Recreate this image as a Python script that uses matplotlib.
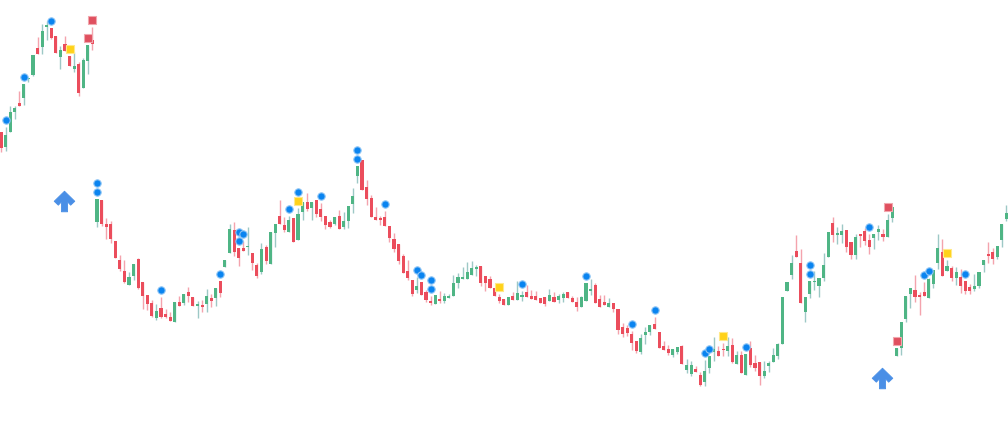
import matplotlib
matplotlib.use("Agg")
import matplotlib.pyplot as plt
import numpy as np
from matplotlib.path import Path

# candle values (chart level units, larger = lower on screen)
# per candle: body top, body bottom, high, low, direction (1 up / 0 down)
body_top = [133, 136, 113, 109, 104, 85, 79, 56, 49, 32, 26, 29, 37, 51, 45, 57, 67, 65, 61, 46,
            41, 200, 201, 225, 225, 242, 261, 272, 278, 265, 260, 283, 296, 304, 312, 309, 315, 318, 303, 303,
            295, 293, 298, 305, 306, 297, 299, 289, 282, 261, 230, 231, 249, 249, 247, 254, 266, 250, 248, 233,
            225, 217, 226, 221, 219, 215, 203, 203, 203, 201, 210, 217, 223, 218, 217, 222, 207, 197, 167, 161,
            188, 199, 218, 219, 218, 227, 240, 245, 257, 272, 281, 287, 283, 293, 302, 296, 300, 297, 297, 284,
            278, 278, 273, 269, 268, 267, 277, 280, 289, 298, 300, 298, 297, 294, 296, 293, 297, 297, 299, 298,
            296, 298, 297, 295, 293, 299, 303, 298, 284, 290, 286, 300, 303, 304, 304, 310, 328, 329, 335, 342,
            339, 333, 326, 325, 333, 347, 350, 350, 348, 347, 366, 366, 370, 376, 372, 357, 350, 352, 350, 347,
            346, 356, 356, 355, 349, 364, 363, 372, 364, 356, 345, 298, 283, 264, 252, 264, 298, 282, 282, 279,
            266, 233, 224, 234, 232, 231, 243, 238, 235, 232, 241, 235, 230, 235, 221, 208, 349, 323, 297, 289,
            291, 296, 293, 280, 271, 249, 253, 267, 269, 273, 278, 282, 288, 287, 273, 261, 255, 253, 247, 225,
            214]
body_bot = [149, 148, 133, 113, 107, 99, 80, 76, 55, 48, 28, 39, 54, 58, 52, 67, 70, 94, 89, 62,
            45, 223, 225, 228, 240, 259, 270, 283, 286, 277, 289, 297, 305, 317, 319, 318, 318, 322, 323, 307,
            304, 297, 307, 307, 308, 305, 302, 299, 294, 268, 254, 253, 259, 252, 247.5, 264, 277, 273, 262, 265,
            234, 225, 231, 233, 243, 241, 213, 210, 209, 215, 218, 226, 228, 225, 230, 228, 222, 205, 177, 191,
            200, 218, 221, 221, 227, 239, 250, 262, 274, 279, 295, 291, 296, 301, 304, 305, 302, 302, 299, 297,
            284, 280, 280, 276, 270, 284, 284, 289, 297, 302, 306, 306, 301, 301, 298, 298, 300, 301, 304, 305,
            302, 303, 301, 299, 299, 303, 308, 308, 302, 292, 304, 308, 306, 308, 310, 331, 335, 334, 344, 352,
            353, 336, 333, 330, 349, 351, 354, 356, 353, 365, 371, 375, 373, 386, 383, 369, 353, 357, 351, 352,
            363, 365, 374, 376, 366, 369, 377, 377, 367, 363, 357, 345, 292, 276, 258, 304, 313, 295, 282.5, 287,
            279, 258, 236, 236, 236, 248, 256, 256, 237, 242, 248, 239, 233, 238, 238, 219, 357, 349, 320, 295,
            298, 298, 297, 299, 285, 264, 277, 272, 279, 279, 287, 292, 292, 290, 287, 266, 257, 260, 258, 241,
            220]
high = [133, 128, 107, 107, 92, 85, 79, 56, 38, 25, 22, 29, 37, 47, 37, 57, 53, 63, 59, 46,
        28, 200, 201, 219, 222, 242, 256, 261, 273, 265, 259, 283, 296, 301, 305, 298, 310, 313, 303, 297,
        295, 288, 298, 302, 301, 290, 295, 289, 282, 261, 225, 223, 249, 242, 228, 254, 264, 244, 246, 233,
        225, 201, 218, 217, 219, 209, 203, 194, 203, 201, 204, 217, 221, 218, 211, 213, 207, 189, 167, 161,
        181, 196, 208, 217, 212, 227, 234, 245, 255, 261, 281, 278, 283, 291, 297, 296, 292, 294, 295, 276,
        274, 268, 263, 262, 266, 267, 277, 277, 289, 295, 300, 298, 293, 282, 292, 286, 291, 292, 299, 298,
        290, 293, 295, 293, 293, 297, 298, 297, 284, 280, 284, 296, 296, 299, 304, 310, 324, 326, 332, 342,
        335, 328, 326, 318, 333, 342, 346, 350, 348, 346, 360, 362, 367, 373, 361, 357, 338, 347, 344, 338,
        339, 352, 352, 355, 342, 356, 363, 362, 362, 349, 344, 298, 283, 256, 236, 250, 298, 282, 272, 279,
        254, 233, 218, 228, 225, 231, 243, 235, 235, 229, 235, 235, 226, 230, 215, 208, 349, 323, 297, 289,
        276, 293, 283, 279, 271, 235, 240, 261, 267, 268, 270, 282, 285, 275, 273, 261, 243, 249, 247, 225,
        206]
low = [153, 152, 133, 120, 107, 106, 83, 77, 55, 55, 41, 40, 54, 70, 52, 67, 73, 97, 89, 75,
       51, 228, 227, 240, 244, 259, 272, 284, 286, 281, 290, 310, 311, 318, 321, 319, 319, 322, 323, 307,
       306, 303, 307, 319, 313, 313, 308, 307, 298, 268, 254, 257, 267, 252, 256, 271, 279, 275, 265, 265,
       248, 225, 233, 233, 243, 241, 221, 212, 221, 218, 222, 230, 229, 226, 230, 230, 229, 214, 184, 191,
       206, 218, 221, 226, 227, 243, 253, 265, 274, 281, 297, 294, 296, 303, 306, 305, 304, 304, 299, 297,
       289, 280, 280, 276, 277, 287, 292, 289, 297, 304, 306, 306, 301, 301, 302, 298, 300, 301, 304, 307,
       302, 303, 304, 303, 299, 303, 312, 308, 302, 296, 304, 308, 306, 308, 313, 335, 338, 337, 351, 354,
       355, 345, 336, 330, 349, 351, 356, 358, 355, 365, 374, 377, 373, 387, 387, 374, 362, 357, 357, 357,
       364, 365, 374, 376, 368, 372, 386, 379, 373, 363, 360, 345, 292, 280, 258, 304, 323, 299, 291, 298,
       282, 258, 243, 245, 244, 253, 260, 260, 248, 246, 255, 250, 241, 242, 238, 223, 357, 356, 323, 309,
       303, 316, 297, 299, 289, 270, 277, 272, 282, 286, 294, 295, 295, 292, 289, 273, 264, 265, 260, 248,
       222]
up = [0, 1, 1, 1, 0, 1, 1, 1, 0, 1, 1, 0, 0, 1, 0, 0, 1, 0, 1, 1,
      0, 1, 0, 0, 0, 0, 0, 0, 1, 1, 0, 0, 0, 0, 1, 0, 0, 0, 1, 0,
      1, 0, 0, 1, 0, 1, 0, 1, 0, 1, 1, 0, 0, 0, 1, 0, 0, 1, 0, 1,
      1, 0, 0, 1, 0, 1, 1, 0, 1, 0, 0, 0, 0, 1, 0, 1, 1, 1, 1, 0,
      0, 0, 0, 0, 0, 0, 0, 0, 0, 0, 0, 1, 0, 0, 0, 1, 0, 1, 1, 1,
      1, 1, 1, 1, 1, 0, 0, 0, 0, 0, 0, 1, 0, 1, 1, 0, 0, 0, 0, 0,
      1, 0, 1, 1, 0, 0, 0, 1, 1, 1, 0, 0, 0, 1, 0, 0, 0, 0, 0, 0,
      1, 1, 1, 0, 0, 0, 0, 1, 1, 0, 1, 1, 0, 0, 1, 1, 1, 0, 0, 1,
      0, 1, 0, 1, 0, 0, 0, 1, 1, 1, 1, 1, 1, 1, 0, 0, 1, 1, 1, 1,
      1, 1, 0, 1, 1, 0, 0, 1, 0, 0, 0, 1, 1, 0, 1, 1, 1, 1, 1, 1,
      0, 0, 0, 1, 1, 1, 0, 1, 0, 1, 0, 0, 0, 1, 1, 1, 0, 0, 1, 1,
      1]

# event markers (candle index; two on one candle stack upwards)
yellow_idx = [15, 65, 109, 158, 207]
red_idx = [19, 20, 194, 196]
blue_idx = [1, 5, 11, 21, 21, 35, 48, 52, 52, 53, 63, 65, 70, 78, 78, 84, 91, 92, 94, 94,
            114, 128, 138, 143, 154, 155, 163, 177, 177, 190, 202, 203, 211]
arrow_pos = [13.8, 192.7]
arrow_level = [202, 379]

GREEN = "#4fb585"
RED = "#eb4d5c"
GREEN_WICK = "#9dc8c6"
RED_WICK = "#f4a3ad"

n = len(up)
x = np.arange(n)
top = np.array(body_top, float)
bot = np.array(body_bot, float)
hi = np.array(high, float)
lo = np.array(low, float)
isup = np.array(up, bool)

fig = plt.figure(figsize=(10.08, 4.31), dpi=100)
ax = fig.add_axes([0, 0, 1, 1])

step = 4.57  # pixels per candle
ax.set_xlim(-1 / step, 1007 / step)
ax.set_ylim(431, 0)
ax.axis("off")

wick_cols = np.where(isup, GREEN_WICK, RED_WICK)
ax.vlines(x, hi, lo, colors=wick_cols, linewidth=1.0, zorder=1)
heights = np.maximum(bot - top, 1.2)
ax.bar(x, heights, bottom=top, width=0.68, color=np.where(isup, GREEN, RED),
       linewidth=0, zorder=2)

# markers sit above the candle high, stacked
stack = {}
def marker_levels(idx_list):
    ys = []
    for i in idx_list:
        k = stack.get(i, 0)
        ys.append(hi[i] - 7 - 9 * k)
        stack[i] = k + 1
    return ys

ys_yellow = marker_levels(yellow_idx)
ys_red = marker_levels(red_idx)
ys_blue = marker_levels(blue_idx)

ax.scatter(yellow_idx, ys_yellow, s=30, marker="s", color="#ffd21a",
           edgecolors="#ffe98a", linewidths=0.8, zorder=4)
ax.scatter(red_idx, ys_red, s=30, marker="s", color="#e0505f",
           edgecolors="#f1a7ae", linewidths=0.8, zorder=4)
ax.scatter(blue_idx, ys_blue, s=28, marker="o", color="#0a84f0",
           edgecolors="#8cc4f5", linewidths=0.8, zorder=4)

# up arrow marker
arrow_verts = [(0, 1), (1, 0.02), (0.6, -0.36), (0.3, -0.04), (0.3, -1),
               (-0.3, -1), (-0.3, -0.04), (-0.6, -0.36), (-1, 0.02), (0, 1)]
arrow_path = Path(arrow_verts, [Path.MOVETO] + [Path.LINETO] * 8 + [Path.CLOSEPOLY])
ax.scatter(arrow_pos, arrow_level, s=220, marker=arrow_path, color="#4a8fe6",
           edgecolors="#4a8fe6", linewidths=0.6, zorder=4)

fig.savefig("out.png", dpi=100)
plt.close(fig)
